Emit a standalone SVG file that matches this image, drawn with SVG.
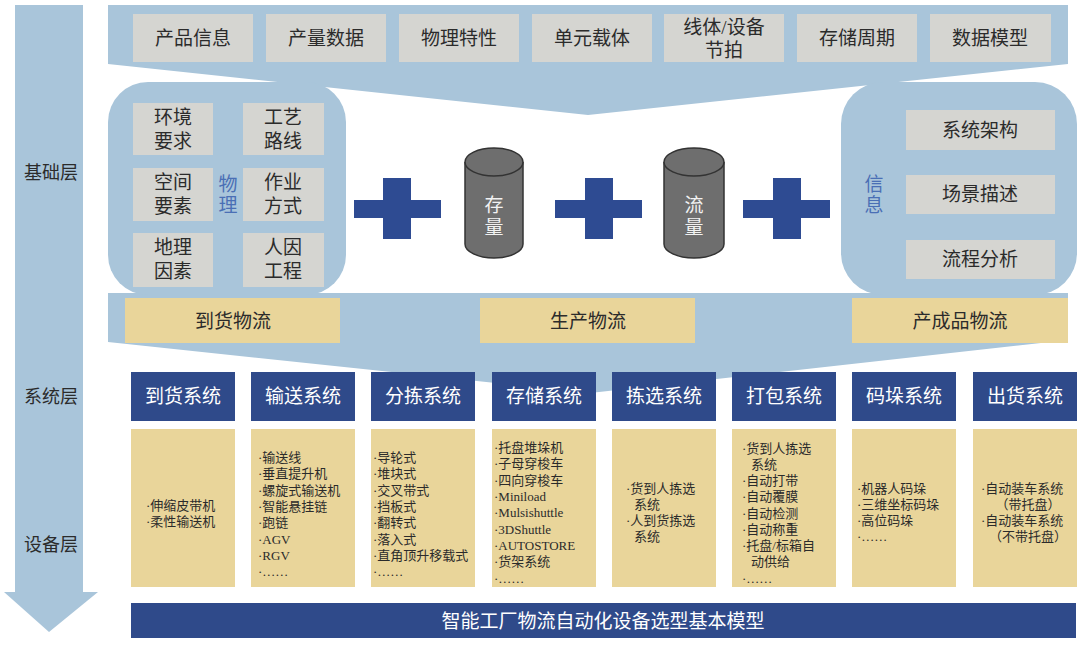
<svg xmlns="http://www.w3.org/2000/svg" width="1080" height="653" viewBox="0 0 1080 653">
<style>
text{font-family:"Liberation Serif","Noto Sans CJK SC",serif;dominant-baseline:central}
.lb{fill:#a9c5da}
.gb{fill:#d5d5d1}
.gt{font-size:19px;fill:#2b2b2b;text-anchor:middle}
.yb{fill:#e9d59a}
.yt{font-size:19px;fill:#2b2b2b;text-anchor:middle}
.hd{fill:#2f4a8a}
.ht{font-size:19px;fill:#ffffff;text-anchor:middle}
.et{font-size:13px;fill:#2b2b2b}
.plus{fill:#2e4b92}
.cyl{fill:#6e6e6e;stroke:#333;stroke-width:1.5}
.ct{font-size:19px;fill:#f2f2f2;text-anchor:middle}
.blue{font-size:19px;fill:#4a6fb5;text-anchor:middle}
.layer{font-size:18px;fill:#2b2b2b;text-anchor:middle}
</style>
<rect width="1080" height="653" fill="#ffffff"/>
<g id="layer-arrow">
<path class="lb" d="M15,5 H83 V592 H98 L49,632 L4,592 H15 Z"/>
<text class="layer" x="51" y="173">基础层</text>
<text class="layer" x="51" y="397">系统层</text>
<text class="layer" x="51" y="545">设备层</text>
</g>
<g id="top-funnel">
<path class="lb" d="M108,5 H1068 V64 L588,115 L108,64 Z"/>
<rect class="gb" x="133" y="14" width="120" height="48"/><text class="gt" x="193" y="38">产品信息</text>
<rect class="gb" x="266" y="14" width="120" height="48"/><text class="gt" x="326" y="38">产量数据</text>
<rect class="gb" x="399" y="14" width="120" height="48"/><text class="gt" x="459" y="38">物理特性</text>
<rect class="gb" x="532" y="14" width="120" height="48"/><text class="gt" x="592" y="38">单元载体</text>
<rect class="gb" x="664" y="14" width="120" height="48"/><text class="gt" x="724" y="27">线体/设备</text><text class="gt" x="724" y="50">节拍</text>
<rect class="gb" x="797" y="14" width="120" height="48"/><text class="gt" x="857" y="38">存储周期</text>
<rect class="gb" x="930" y="14" width="121" height="48"/><text class="gt" x="990" y="38">数据模型</text>
</g>
<g id="bottom-funnel">
<path class="lb" d="M108,293 H1068 V340 L590,393 L108,342 Z"/>
<rect class="yb" x="125" y="298" width="215" height="45"/><text class="yt" x="233" y="321">到货物流</text>
<rect class="yb" x="480" y="298" width="215" height="45"/><text class="yt" x="588" y="321">生产物流</text>
<rect class="yb" x="852" y="298" width="216" height="45"/><text class="yt" x="960" y="321">产成品物流</text>
</g>
<g id="physical">
<rect class="lb" x="108" y="82" width="238" height="213" rx="40"/>
<rect class="gb" x="133" y="103" width="80" height="52"/><text class="gt" x="173" y="117">环境</text><text class="gt" x="173" y="141">要求</text>
<rect class="gb" x="243" y="103" width="81" height="52"/><text class="gt" x="283" y="117">工艺</text><text class="gt" x="283" y="141">路线</text>
<rect class="gb" x="133" y="168" width="80" height="53"/><text class="gt" x="173" y="182">空间</text><text class="gt" x="173" y="206">要素</text>
<rect class="gb" x="243" y="168" width="81" height="53"/><text class="gt" x="283" y="182">作业</text><text class="gt" x="283" y="206">方式</text>
<rect class="gb" x="133" y="233" width="80" height="54"/><text class="gt" x="173" y="247">地理</text><text class="gt" x="173" y="271">因素</text>
<rect class="gb" x="243" y="233" width="81" height="54"/><text class="gt" x="283" y="247">人因</text><text class="gt" x="283" y="271">工程</text>
<text class="blue" x="228" y="184">物</text><text class="blue" x="228" y="205">理</text>
</g>
<g id="information">
<rect class="lb" x="841" y="82" width="236" height="213" rx="42"/>
<rect class="gb" x="906" y="110" width="149" height="40"/><text class="gt" x="980" y="130">系统架构</text>
<rect class="gb" x="906" y="175" width="149" height="39"/><text class="gt" x="980" y="194">场景描述</text>
<rect class="gb" x="906" y="240" width="149" height="39"/><text class="gt" x="980" y="259">流程分析</text>
<text class="blue" x="874" y="184">信</text><text class="blue" x="874" y="205">息</text>
</g>
<g id="plus-1"><rect class="plus" x="354" y="200" width="87" height="18"/><rect class="plus" x="383" y="178" width="28" height="61"/></g>
<g id="stock">
<path class="cyl" d="M465,162 V244 A29,14 0 0 0 523,244 V162"/>
<ellipse class="cyl" cx="494" cy="162" rx="29" ry="14"/>
<text class="ct" x="494" y="205">存</text><text class="ct" x="494" y="227">量</text>
</g>
<g id="plus-2"><rect class="plus" x="555" y="200" width="87" height="18"/><rect class="plus" x="585" y="178" width="28" height="61"/></g>
<g id="flow">
<path class="cyl" d="M664,162 V244 A30,14 0 0 0 724,244 V162"/>
<ellipse class="cyl" cx="694" cy="162" rx="30" ry="14"/>
<text class="ct" x="694" y="205">流</text><text class="ct" x="694" y="227">量</text>
</g>
<g id="plus-3"><rect class="plus" x="743" y="200" width="87" height="18"/><rect class="plus" x="773" y="178" width="28" height="61"/></g>
<g id="connectors"></g>
<g id="sys-arrival">
<rect class="hd" x="131" y="372" width="104" height="49"/><text class="ht" x="183" y="396">到货系统</text>
<rect class="yb" x="131" y="429" width="104" height="158"/>
<text class="et" x="146" y="505">·伸缩皮带机</text><text class="et" x="146" y="521">·柔性输送机</text>
</g>
<g id="sys-conveying">
<rect class="hd" x="251" y="372" width="104" height="49"/><text class="ht" x="303" y="396">输送系统</text>
<rect class="yb" x="251" y="429" width="104" height="158"/>
<text class="et" x="258" y="457">·输送线</text><text class="et" x="258" y="473">·垂直提升机</text><text class="et" x="258" y="490">·螺旋式输送机</text><text class="et" x="258" y="506">·智能悬挂链</text><text class="et" x="258" y="522">·跑链</text><text class="et" x="258" y="539">·AGV</text><text class="et" x="258" y="555">·RGV</text><text class="et" x="258" y="571">·……</text>
</g>
<g id="sys-sorting">
<rect class="hd" x="371" y="372" width="104" height="49"/><text class="ht" x="423" y="396">分拣系统</text>
<rect class="yb" x="371" y="429" width="104" height="158"/>
<text class="et" x="373" y="457">·导轮式</text><text class="et" x="373" y="473">·堆块式</text><text class="et" x="373" y="490">·交叉带式</text><text class="et" x="373" y="506">·挡板式</text><text class="et" x="373" y="522">·翻转式</text><text class="et" x="373" y="539">·落入式</text><text class="et" x="373" y="555">·直角顶升移载式</text><text class="et" x="373" y="571">·……</text>
</g>
<g id="sys-storage">
<rect class="hd" x="492" y="372" width="104" height="49"/><text class="ht" x="544" y="396">存储系统</text>
<rect class="yb" x="492" y="429" width="104" height="158"/>
<text class="et" x="494" y="447">·托盘堆垛机</text><text class="et" x="494" y="463">·子母穿梭车</text><text class="et" x="494" y="480">·四向穿梭车</text><text class="et" x="494" y="496">·Miniload</text><text class="et" x="494" y="512">·Mulsishuttle</text><text class="et" x="494" y="529">·3DShuttle</text><text class="et" x="494" y="545">·AUTOSTORE</text><text class="et" x="494" y="561">·货架系统</text><text class="et" x="494" y="578">·……</text>
</g>
<g id="sys-picking">
<rect class="hd" x="612" y="372" width="104" height="49"/><text class="ht" x="664" y="396">拣选系统</text>
<rect class="yb" x="612" y="429" width="104" height="158"/>
<text class="et" x="626" y="488">·货到人拣选</text><text class="et" x="634" y="504">系统</text><text class="et" x="626" y="520">·人到货拣选</text><text class="et" x="634" y="536">系统</text>
</g>
<g id="sys-packing">
<rect class="hd" x="732" y="372" width="104" height="49"/><text class="ht" x="784" y="396">打包系统</text>
<rect class="yb" x="732" y="429" width="104" height="158"/>
<text class="et" x="742" y="448">·货到人拣选</text><text class="et" x="751" y="464">系统</text><text class="et" x="742" y="480">·自动打带</text><text class="et" x="742" y="496">·自动覆膜</text><text class="et" x="742" y="513">·自动检测</text><text class="et" x="742" y="529">·自动称重</text><text class="et" x="742" y="545">·托盘/标箱自</text><text class="et" x="751" y="561">动供给</text><text class="et" x="742" y="578">·……</text>
</g>
<g id="sys-palletizing">
<rect class="hd" x="852" y="372" width="104" height="49"/><text class="ht" x="904" y="396">码垛系统</text>
<rect class="yb" x="852" y="429" width="104" height="158"/>
<text class="et" x="857" y="488">·机器人码垛</text><text class="et" x="857" y="504">·三维坐标码垛</text><text class="et" x="857" y="520">·高位码垛</text><text class="et" x="857" y="536">·……</text>
</g>
<g id="sys-shipping">
<rect class="hd" x="973" y="372" width="104" height="49"/><text class="ht" x="1025" y="396">出货系统</text>
<rect class="yb" x="973" y="429" width="104" height="158"/>
<text class="et" x="981" y="488">·自动装车系统</text><text class="et" x="1028" y="504" text-anchor="middle">（带托盘）</text><text class="et" x="981" y="520">·自动装车系统</text><text class="et" x="1028" y="536" text-anchor="middle">（不带托盘）</text>
</g>
<g id="base-model">
<rect class="hd" x="131" y="603" width="945" height="35"/>
<text class="ht" x="603" y="621" fill="#eef1f8">智能工厂物流自动化设备选型基本模型</text>
</g>
</svg>
